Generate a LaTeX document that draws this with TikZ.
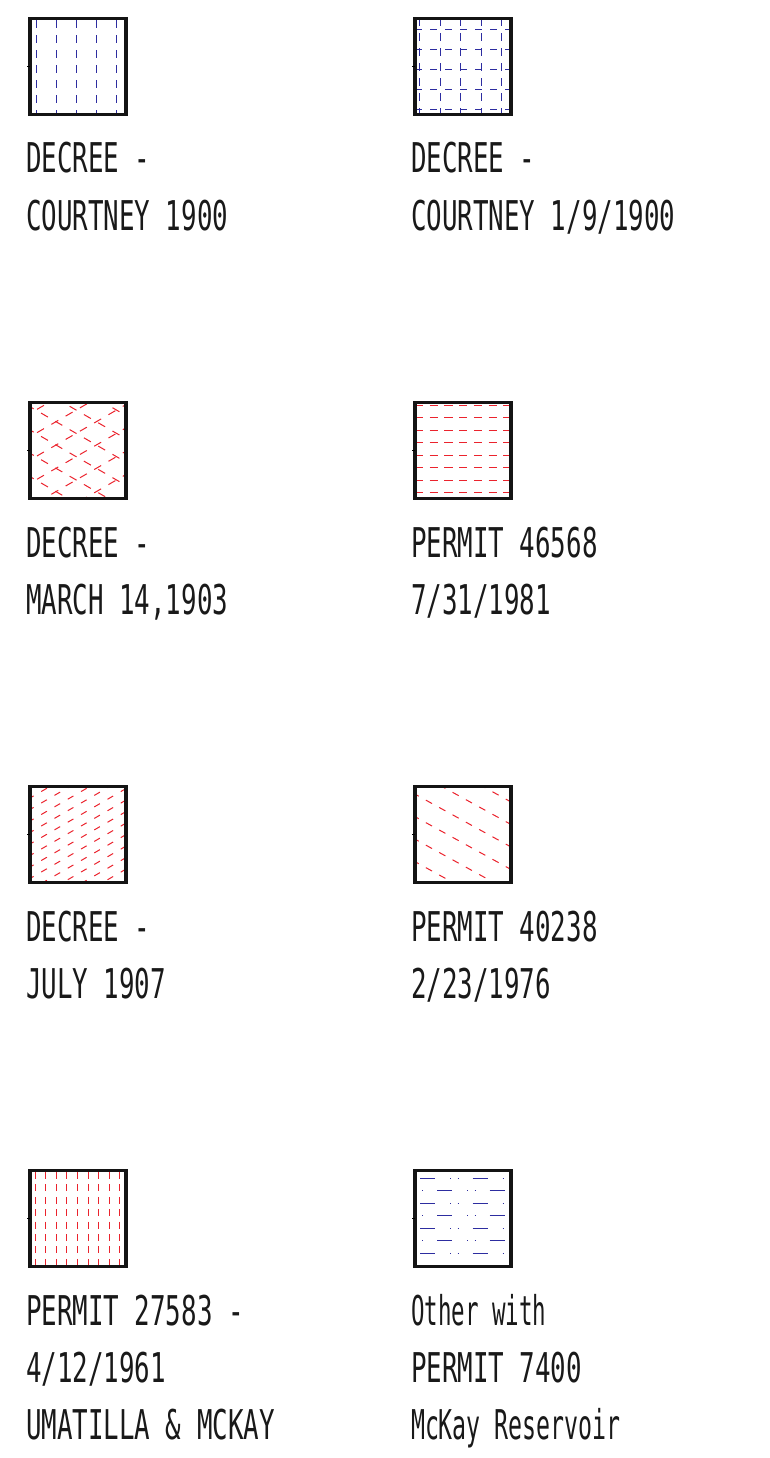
\documentclass[tikz,border=0pt]{standalone}
\usepackage{fontspec}
\setmainfont{DejaVu Sans Mono}[FakeStretch=0.63]
\definecolor{hblue}{RGB}{45,45,160}
\definecolor{hred}{RGB}{235,35,45}
\begin{document}
\begin{tikzpicture}[x=1pt,y=-1pt,
  swatch/.style={draw=black!92, line width=3.2pt, minimum width=96pt, minimum height=96pt, inner sep=0pt, outer sep=0pt},
  hb/.style={draw=hblue, line width=0.9pt},
  hr/.style={draw=hred, line width=1pt},
  lbl/.style={anchor=base west, inner sep=0pt, outer sep=0pt, text=black!90, font=\fontsize{41}{41}\selectfont},
  tickmark/.style={draw=black, line width=1pt}]
\useasboundingbox (0,0) rectangle (769,1458);

% ---------- hatches ----------
% 1: blue vertical dashed
\begin{scope}[shift={(30,18.5)}]
  \clip (0,0) rectangle (96,96);
  \foreach \i in {0,...,4} \draw[hb, dash pattern=on 8pt off 7pt] ({6+20.2*\i},2) -- ++(0,100);
\end{scope}
% 2: blue dashed grid
\begin{scope}[shift={(415,18.5)}]
  \clip (0,0) rectangle (96,96);
  \foreach \i in {0,...,4} \draw[hb, dash pattern=on 7.5pt off 7.5pt] ({4.5+20.5*\i},0) -- ++(0,100);
  \foreach \j in {0,...,4} \draw[hb, dash pattern=on 7pt off 8pt] (0,{11+20*\j}) -- ++(100,0);
\end{scope}
% 3: red dashed cross-hatch
\begin{scope}[shift={(30,402.5)}]
  \clip (0,0) rectangle (96,96);
  \foreach \k in {-3,...,5}{
    \pgfmathsetmacro\ca{-19.1+23.3*\k}
    \pgfmathsetmacro\cb{57.5+23.3*\k}
    \draw[hr, dash pattern=on 8pt off 8.5pt] (-17.53,{0.57735*(-17.53)+\ca}) -- (120,{0.57735*120+\ca});
    \draw[hr, dash pattern=on 8pt off 8.5pt] (-21.53,{-0.57735*(-21.53)+\cb}) -- (120,{-0.57735*120+\cb});
  }
\end{scope}
% 4: red horizontal dashed
\begin{scope}[shift={(415,402.5)}]
  \clip (0,0) rectangle (96,96);
  \foreach \j in {0,...,7} \draw[hr, dash pattern=on 8.3pt off 6.4pt] (0,{2.5+12.5*\j}) -- ++(100,0);
\end{scope}
% 5: red rising short dashes
\begin{scope}[shift={(30,786.5)}]
  \clip (0,0) rectangle (96,96);
  \foreach \k in {0,...,14}{
    \pgfmathsetmacro\c{11.5*\k}
    \draw[hr, dash pattern=on 6.5pt off 8.8pt] (-2,{0.57735*2+\c}) -- (110,{-0.57735*110+\c});
  }
\end{scope}
% 6: red falling dashes
\begin{scope}[shift={(415,786.5)}]
  \clip (0,0) rectangle (96,96);
  \foreach \k in {-3,...,4}{
    \pgfmathsetmacro\c{7.65+22.5*\k}
    \draw[hr, dash pattern=on 7pt off 8.2pt] (-15.75,{0.55*(-15.75)+\c}) -- (110,{0.55*110+\c});
  }
\end{scope}
% 7: red dense vertical dashes
\begin{scope}[shift={(30,1170.5)}]
  \clip (0,0) rectangle (96,96);
  \foreach \i in {0,...,8} \draw[hr, dash pattern=on 7pt off 5.4pt] ({5+10.6*\i},1.5) -- ++(0,100);
\end{scope}
% 8: blue dash-dot rows
\begin{scope}[shift={(415,1170.5)}]
  \clip (0,0) rectangle (96,96);
  \foreach \j in {0,2,4,6} \draw[hb, dash pattern=on 15pt off 15pt on 0.8pt off 6.8pt on 0.8pt off 14.2pt] (5,{7.5+12.5*\j}) -- ++(100,0);
  \foreach \j in {1,3,5} \draw[hb, dash pattern=on 15pt off 15pt on 0.8pt off 6.8pt on 0.8pt off 14.2pt] (-30.6,{7.5+12.5*\j}) -- ++(140,0);
\end{scope}

% ---------- swatch frames ----------
\node[swatch] (b1) at (78,66.5) {};
\node[swatch] (b2) at (463,66.5) {};
\node[swatch] (b3) at (78,450.5) {};
\node[swatch] (b4) at (463,450.5) {};
\node[swatch] (b5) at (78,834.5) {};
\node[swatch] (b6) at (463,834.5) {};
\node[swatch] (b7) at (78,1218.5) {};
\node[swatch] (b8) at (463,1218.5) {};
\foreach \b in {b1,b2,b3,b4,b5,b6,b7,b8} \draw[tickmark] (\b.west) -- ++(-3,0);

% ---------- labels ----------
\node[lbl] (l1a) at (26,173) {DECREE -};
\node[lbl] (l1b) at (26,230) {COURTNEY 1900};
\node[lbl] (l2a) at (411,173) {DECREE -};
\node[lbl] (l2b) at (411,230) {COURTNEY 1/9/1900};
\node[lbl] (l3a) at (26,557) {DECREE -};
\node[lbl] (l3b) at (26,614) {MARCH 14,1903};
\node[lbl] (l4a) at (411,557) {PERMIT 46568};
\node[lbl] (l4b) at (411,614) {7/31/1981};
\node[lbl] (l5a) at (26,941) {DECREE -};
\node[lbl] (l5b) at (26,998) {JULY 1907};
\node[lbl] (l6a) at (411,941) {PERMIT 40238};
\node[lbl] (l6b) at (411,998) {2/23/1976};
\node[lbl] (l7a) at (26,1325) {PERMIT 27583 -};
\node[lbl] (l7b) at (26,1382) {4/12/1961};
\node[lbl] (l7c) at (26,1439) {UMATILLA \& MCKAY};
\node[lbl] (l8a) at (411,1325) {\scalebox{0.87}[1]{Other with}};
\node[lbl] (l8b) at (411,1382) {PERMIT 7400};
\node[lbl] (l8c) at (411,1439) {\scalebox{0.9}[1]{McKay Reservoir}};
\end{tikzpicture}
\end{document}
